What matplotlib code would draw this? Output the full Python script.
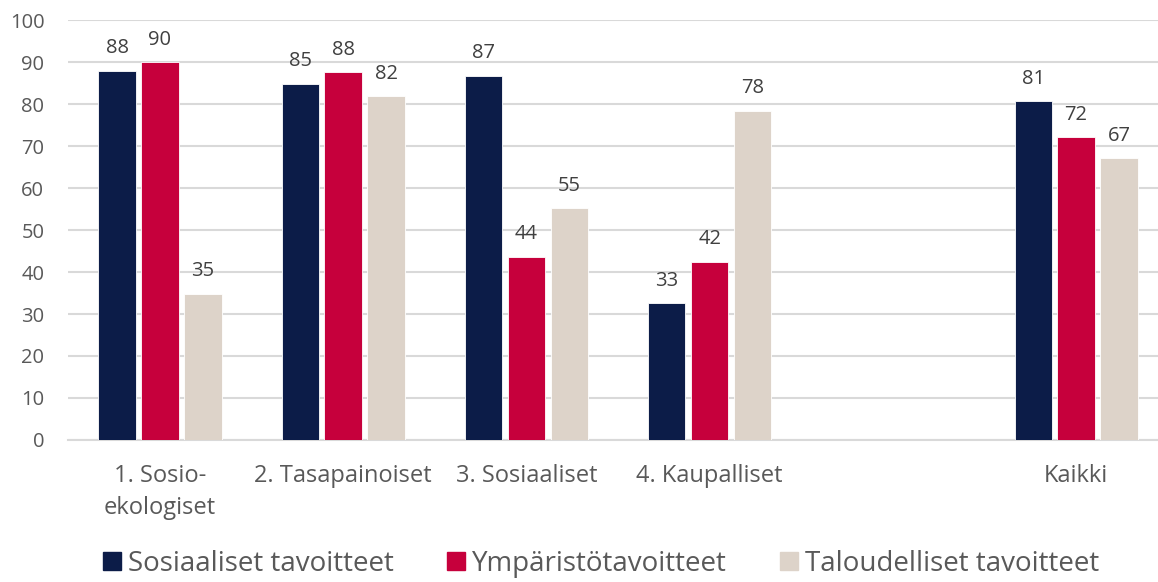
import numpy as np
import matplotlib.pyplot as plt
from matplotlib.patches import Rectangle

plt.rcParams['font.family'] = ['Open Sans', 'DejaVu Sans']

# data
categories = ['1. Sosio-\nekologiset', '2. Tasapainoiset', '3. Sosiaaliset',
              '4. Kaupalliset', '', 'Kaikki']
series_names = ['Sosiaaliset tavoitteet', 'Ympäristötavoitteet', 'Taloudelliset tavoitteet']
sosiaaliset = [87.9, 84.8, 86.7, 32.6, np.nan, 80.7]
ymparisto = [90.0, 87.6, 43.6, 42.4, np.nan, 72.1]
taloudelliset = [34.8, 81.9, 55.2, 78.4, np.nan, 67.1]
colors = ['#0C1C48', '#C6003C', '#DDD3C9']

fig = plt.figure(figsize=(11.58, 5.82), dpi=100)
ax = fig.add_axes([0.0587, 0.244, 0.9413, 0.7216])

x = np.arange(len(categories))
width = 0.204
offset = 0.234
all_series = [sosiaaliset, ymparisto, taloudelliset]
for i, (vals, col) in enumerate(zip(all_series, colors)):
    bars = ax.bar(x + (i - 1) * offset, vals, width, color=col,
                  edgecolor='white', linewidth=0.6, zorder=3)
    labels = ['' if np.isnan(v) else '{:.0f}'.format(v) for v in vals]
    ax.bar_label(bars, labels=labels, padding=9, fontsize=14.5, color='#404040')

ax.set_ylim(0, 100)
ax.set_yticks(range(0, 101, 10))
ax.set_xlim(-0.502, 5.447)
ax.set_xticks(x)
ax.set_xticklabels(categories, fontsize=17, color='#595959', linespacing=1.45)
ax.tick_params(axis='y', length=0, pad=17, labelsize=14.5, labelcolor='#595959')
ax.tick_params(axis='x', length=0, pad=17)
ax.yaxis.grid(True, color='#D9D9D9', linewidth=1.5, zorder=0)
for s in ['top', 'right', 'left']:
    ax.spines[s].set_visible(False)
ax.spines['bottom'].set_color('#D9D9D9')
ax.spines['bottom'].set_linewidth(1.5)

handles = [Rectangle((0, 0), 1, 1, color=c) for c in colors]
fig.legend(handles, series_names, loc='lower center', bbox_to_anchor=(0.519, -0.036),
           ncol=3, frameon=False, fontsize=20, handlelength=0.65, handleheight=0.65,
           handletextpad=0.25, columnspacing=1.9, labelcolor='#595959')

fig.savefig('out.png', dpi=100)
